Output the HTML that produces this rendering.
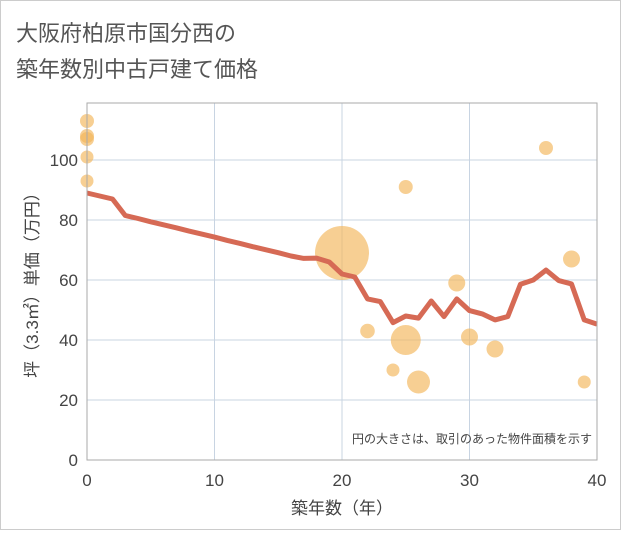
<!DOCTYPE html>
<html><head><meta charset="utf-8"><style>
body{margin:0;background:#fff;}
svg text{font-family:"Liberation Sans","Noto Sans CJK JP",sans-serif;}
</style></head><body>
<svg width="621" height="530" viewBox="0 0 621 530" xmlns="http://www.w3.org/2000/svg">
<rect x="0.5" y="0.5" width="620" height="529" fill="#fff" stroke="#ccc"/>
<text x="16" y="41" font-size="22" fill="#555">大阪府柏原市国分西の</text>
<text x="16" y="77" font-size="22" fill="#555">築年数別中古戸建て価格</text>
<g id="grid"></g>
<g id="bubbles"></g>
<g id="line"></g>
<g id="axes"></g>
<text x="592" y="443" font-size="12" fill="#444" text-anchor="end">円の大きさは、取引のあった物件面積を示す</text>
<text x="342" y="514" font-size="17" fill="#444" text-anchor="middle">築年数（年）</text>
<text transform="translate(38,281) rotate(-90)" font-size="17" fill="#444" text-anchor="middle">坪（3.3㎡）単価（万円）</text>
</svg>
<script>
const xTicks=[0,10,20,30,40];
const yTicks=[0,20,40,60,80,100];
const lineYears=[0,1,2,3,4,5,6,7,8,9,10,11,12,13,14,15,16,17,18,19,20,21,22,23,24,25,26,27,28,29,30,31,32,33,34,35,36,37,38,39,40];
const linePrices=[89,88,87,81.5,80.5,79.4,78.4,77.4,76.3,75.3,74.3,73.2,72.2,71.1,70.1,69.1,68,67.2,67.3,66,62,61,53.7,52.8,45.8,48,47.3,53,47.8,53.7,49.8,48.7,46.7,47.8,58.6,60,63.3,59.8,58.7,46.7,45.3];
const bubbleYears=[0,0,0,0,0,20,22,24,25,25,26,29,30,32,36,38,39];
const bubblePrices=[113,108,107,101,93,69,43,30,40,91,26,59,41,37,104,67,26];
const bubbleSizes=[7,7,7,6.5,6.5,27,7.3,6.5,15,7,11.5,8.5,8.5,8.5,7,8.5,6.5];
const X0=87,X1=597,Y0=460,YT=103;
const sx=v=>X0+(X1-X0)*v/40;
const sy=v=>Y0-3.0*v;
const NS="http://www.w3.org/2000/svg";
function mk(tag,attrs,parent){const e=document.createElementNS(NS,tag);for(const k in attrs)e.setAttribute(k,attrs[k]);parent.appendChild(e);return e;}
const grid=document.getElementById('grid'),axes=document.getElementById('axes');
xTicks.forEach(t=>{
 const l=mk('line',{x1:sx(t),x2:sx(t),y1:YT,y2:Y0,stroke:'#c8d4e2','stroke-width':1},grid);
 
 
 const tx=mk('text',{x:sx(t),y:486,'font-size':17,fill:'#444','text-anchor':'middle'},axes);
 tx.textContent=t;
 
 
});
yTicks.forEach(t=>{
 const l=mk('line',{x1:X0,x2:X1,y1:sy(t),y2:sy(t),stroke:'#c8d4e2','stroke-width':1},grid);
 
 
 const tx=mk('text',{x:78,y:sy(t)+6,'font-size':17,fill:'#444','text-anchor':'end'},axes);
 tx.textContent=t;
 
 
});
const fr=mk('rect',{x:X0,y:YT,width:X1-X0,height:Y0-YT,fill:'none',stroke:'#aaa','stroke-width':1},axes);


const bg=document.getElementById('bubbles');
bubbleYears.forEach((y,i)=>{
 const c=mk('circle',{cx:sx(y),cy:sy(bubblePrices[i]),r:bubbleSizes[i],fill:'#f2b559','fill-opacity':0.65},bg);
 
 
});
const pts=lineYears.map((y,i)=>sx(y)+','+sy(linePrices[i])).join(' ');
const pl=mk('polyline',{points:pts,fill:'none',stroke:'#d66a55','stroke-width':5,'stroke-linejoin':'round'},document.getElementById('line'));


</script>
</body></html>
